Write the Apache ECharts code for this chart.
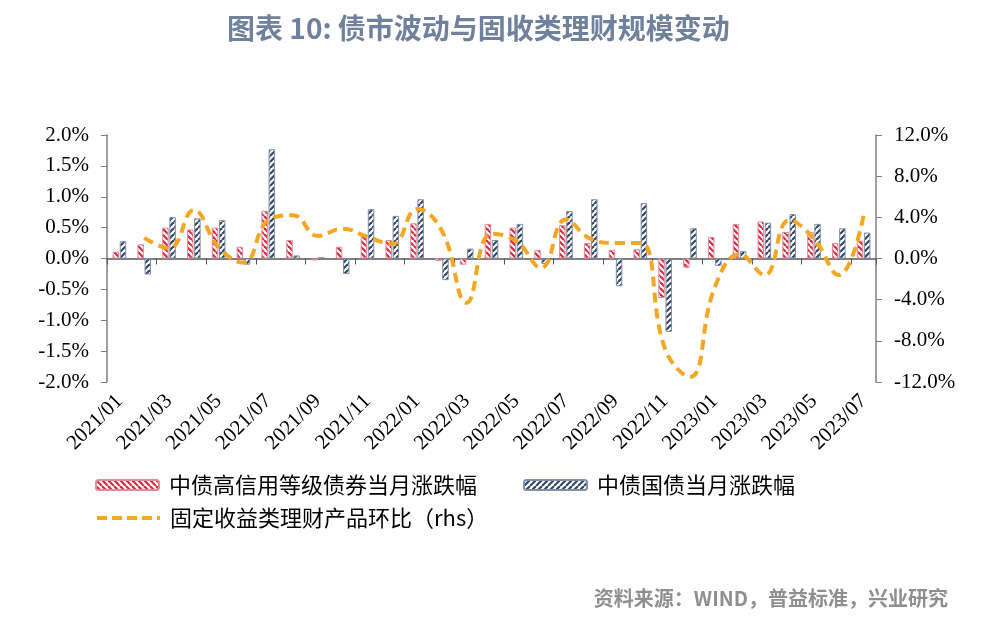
<!DOCTYPE html>
<html>
<head>
<meta charset="utf-8">
<title></title>
<script src="https://cdn.jsdelivr.net/npm/echarts@6/dist/echarts.min.js"></script>
<style>
  html, body { margin: 0; padding: 0; background: #fff; }
  #chart { width: 992px; height: 623px; }
</style>
</head>
<body>
<div id="chart"></div>
<script>
// 月份
var months = ['2021/01','2021/02','2021/03','2021/04','2021/05','2021/06','2021/07','2021/08','2021/09','2021/10','2021/11','2021/12',
  '2022/01','2022/02','2022/03','2022/04','2022/05','2022/06','2022/07','2022/08','2022/09','2022/10','2022/11','2022/12',
  '2023/01','2023/02','2023/03','2023/04','2023/05','2023/06','2023/07'];
// 中债高信用等级债券当月涨跌幅 (%)
var highGrade = [0.11, 0.23, 0.50, 0.47, 0.50, 0.19, 0.77, 0.30, -0.03, 0.19, 0.39, 0.30, 0.57, -0.04, -0.10, 0.56,
  0.50, 0.14, 0.54, 0.25, 0.14, 0.15, -0.64, -0.15, 0.35, 0.56, 0.60, 0.43, 0.43, 0.25, 0.29];
// 中债国债当月涨跌幅 (%)
var govBond = [0.28, -0.26, 0.67, 0.65, 0.62, -0.10, 1.77, 0.05, 0.02, -0.25, 0.80, 0.69, 0.96, -0.35, 0.16, 0.30,
  0.56, -0.09, 0.77, 0.96, -0.45, 0.90, -1.19, 0.49, -0.12, 0.12, 0.58, 0.72, 0.56, 0.49, 0.42];
// 固定收益类理财产品环比 (%, 右轴)
var fixedIncome = ['-', 2.0, 1.0, 4.7, 1.1, -0.4, 3.7, 4.2, 2.2, 2.9, 2.1, 1.4, 4.8, 2.7, -4.3, 2.4,
  1.7, -0.9, 3.8, 1.9, 1.5, 1.5, -8.8, -11.5, -2.8, 0.4, -1.6, 3.7, 1.9, -1.6, 4.2];

var names = ['中债高信用等级债券当月涨跌幅', '中债国债当月涨跌幅', '固定收益类理财产品环比（rhs）'];

// 斜线填充
function hatch(color, back) {
  var c = document.createElement('canvas');
  c.width = 6; c.height = 6;
  var ctx = c.getContext('2d');
  ctx.fillStyle = '#fff';
  ctx.fillRect(0, 0, 6, 6);
  ctx.strokeStyle = color;
  ctx.lineWidth = 2.2;
  for (var x0 = -6; x0 <= 6; x0 += 6) {
    ctx.beginPath();
    if (back) { ctx.moveTo(x0, 0); ctx.lineTo(x0 + 6, 6); }
    else { ctx.moveTo(x0, 6); ctx.lineTo(x0 + 6, 0); }
    ctx.stroke();
  }
  return { image: c, repeat: 'repeat' };
}

var serif = 'Liberation Serif';
var cjk = 'Noto Sans CJK SC';
var pct1 = function (v) { return v.toFixed(1) + '%'; };

var myChart = echarts.init(document.getElementById('chart'));
var option = {
  animation: false,
  backgroundColor: '#fff',
  title: {
    text: '图表 10: 债市波动与固收类理财规模变动',
    left: 222, top: 9,
    textStyle: { fontFamily: cjk, fontSize: 28, fontWeight: 'bold', color: '#6f819c' }
  },
  graphic: [{
    type: 'text', right: 44, top: 588,
    style: { text: '资料来源：WIND，普益标准，兴业研究', fontFamily: cjk, fontSize: 20, fontWeight: 'bold', fill: '#8f8f8f' }
  }],
  legend: [{
    data: [names[0], names[1]],
    left: 90, top: 469, itemWidth: 63, itemHeight: 10, itemGap: 46,
    textStyle: { fontFamily: cjk, fontSize: 22, color: '#000', padding: [0, 0, 0, 5] }
  }, {
    data: [names[2]],
    left: 90, top: 502, itemWidth: 63, itemHeight: 10,
    itemStyle: { opacity: 0 },
    lineStyle: { width: 4, type: [10, 5], color: '#f5a623' },
    textStyle: { fontFamily: cjk, fontSize: 22, color: '#000', padding: [0, 0, 0, 5] }
  }],
  grid: { left: 107, right: 116, top: 135, bottom: 241 },
  xAxis: [{
    type: 'category', data: months,
    axisLine: { onZero: true, lineStyle: { color: '#555', width: 1.5 } },
    axisTick: { show: true, interval: 1, length: 6, lineStyle: { color: '#555' } },
    axisLabel: { show: false }
  }, {
    type: 'category', data: months, position: 'bottom',
    axisLine: { show: false, onZero: false },
    axisTick: { show: false },
    axisLabel: { interval: 1, rotate: 45, margin: 16, fontFamily: serif, fontSize: 21, color: '#000' }
  }],
  yAxis: [{
    type: 'value', min: -2, max: 2, interval: 0.5,
    axisLine: { show: true, lineStyle: { color: '#7f7f7f', width: 1.5 } },
    axisTick: { show: true, length: 6, lineStyle: { color: '#7f7f7f' } },
    splitLine: { show: false },
    axisLabel: { formatter: pct1, margin: 18, fontFamily: serif, fontSize: 21, color: '#000' }
  }, {
    type: 'value', min: -12, max: 12, interval: 4,
    axisLine: { show: true, lineStyle: { color: '#7f7f7f', width: 1.5 } },
    axisTick: { show: true, length: 6, lineStyle: { color: '#7f7f7f' } },
    splitLine: { show: false },
    axisLabel: { formatter: pct1, margin: 18, fontFamily: serif, fontSize: 21, color: '#000' }
  }],
  series: [{
    name: names[0], type: 'bar', data: highGrade,
    xAxisIndex: 0, yAxisIndex: 0,
    barWidth: 6.5, barGap: '10%',
    itemStyle: { color: hatch('#d42a44', true), borderColor: '#e58a98', borderWidth: 1 }
  }, {
    name: names[1], type: 'bar', data: govBond,
    xAxisIndex: 0, yAxisIndex: 0,
    barWidth: 6.5, barGap: '10%',
    itemStyle: { color: hatch('#354766', false), borderColor: '#8090aa', borderWidth: 1 }
  }, {
    name: names[2], type: 'line', data: fixedIncome,
    xAxisIndex: 0, yAxisIndex: 1,
    smooth: 0.45, showSymbol: false, symbol: 'none',
    lineStyle: { color: '#f5a623', width: 4, type: [10, 6] },
    itemStyle: { color: '#f5a623' },
    z: 5
  }]
};
myChart.setOption(option);
</script>
</body>
</html>
